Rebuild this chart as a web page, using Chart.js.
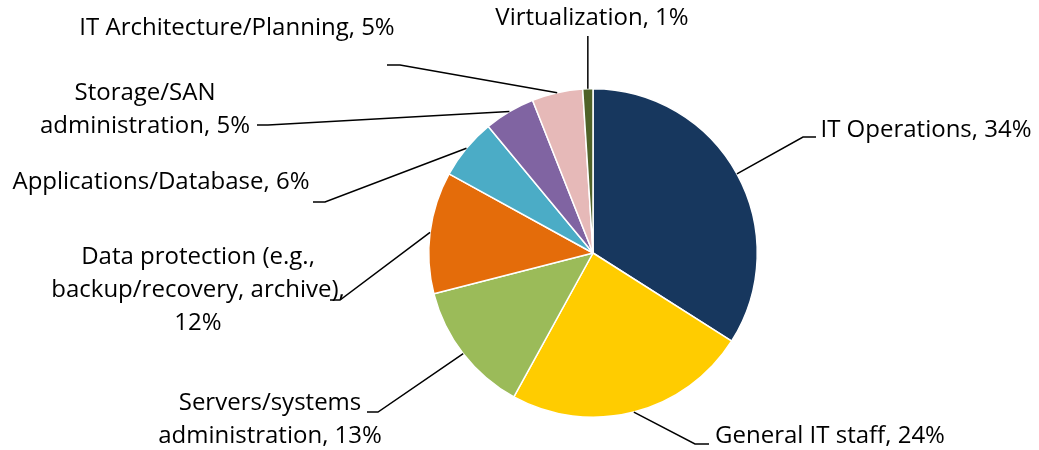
<!DOCTYPE html>
<html>
<head>
<meta charset="utf-8">
<script src="https://cdn.jsdelivr.net/npm/chart.js@4"></script>
<style>
  html, body { margin: 0; padding: 0; background: #ffffff; }
  #wrap { width: 1039px; height: 450px; }
</style>
</head>
<body>
<div id="wrap"><canvas id="c" width="1039" height="450"></canvas></div>
<script>
// ---- data ----
const categories = [
  "IT Operations",
  "General IT staff",
  "Servers/systems administration",
  "Data protection (e.g., backup/recovery, archive)",
  "Applications/Database",
  "Storage/SAN administration",
  "IT Architecture/Planning",
  "Virtualization"
];
const values = [34, 24, 13, 12, 6, 5, 5, 1];
const colors = ["#17375E", "#FFCC00", "#9BBB59", "#E46C0A", "#4BACC6", "#8064A2", "#E6B9B8", "#4F6228"];

// label text split into lines (as in the reference)
const labelLines = [
  ["IT Operations, 34%"],
  ["General IT staff, 24%"],
  ["Servers/systems", "administration, 13%"],
  ["Data protection (e.g.,", "backup/recovery, archive),", "12%"],
  ["Applications/Database, 6%"],
  ["Storage/SAN", "administration, 5%"],
  ["IT Architecture/Planning, 5%"],
  ["Virtualization, 1%"]
];

// ---- label layout (canvas px): text centre x, first line centre y, elbow, stub end ----
const labelLayout = [
  { tx: 926, ty: 130, elbow: [803, 137], stub: [816, 137] },
  { tx: 830, ty: 436, elbow: [695, 444], stub: [709, 444] },
  { tx: 270, ty: 403, elbow: [378, 412], stub: [367, 412] },
  { tx: 198, ty: 257, elbow: [340, 300], stub: [330, 300] },
  { tx: 161, ty: 182, elbow: [325, 202], stub: [313, 202] },
  { tx: 145, ty: 93,  elbow: [268, 125], stub: [257, 125] },
  { tx: 237, ty: 28,  elbow: [400, 65],  stub: [387, 65] },
  { tx: 592, ty: 18,  elbow: null,       stubY: 36 }
];
const FONT = "24px 'Open Sans'";
const LINE_H = 33;

const leaderPlugin = {
  id: 'leaders',
  afterDatasetsDraw(chart) {
    const ctx = chart.ctx;
    const meta = chart.getDatasetMeta(0);
    ctx.save();
    ctx.strokeStyle = "#000000";
    ctx.lineWidth = 1.5;
    ctx.fillStyle = "#000000";
    ctx.font = FONT;
    ctx.textAlign = "center";
    ctx.textBaseline = "middle";
    meta.data.forEach((arc, i) => {
      const p = arc.getProps(['x', 'y', 'startAngle', 'endAngle', 'outerRadius'], true);
      const mid = (p.startAngle + p.endAngle) / 2;
      const px = p.x + Math.cos(mid) * p.outerRadius;
      const py = p.y + Math.sin(mid) * p.outerRadius;
      const L = labelLayout[i];
      ctx.beginPath();
      ctx.moveTo(px, py);
      if (L.elbow) {
        ctx.lineTo(L.elbow[0], L.elbow[1]);
        ctx.lineTo(L.stub[0], L.stub[1]);
      } else {
        ctx.lineTo(px, L.stubY);
      }
      ctx.stroke();
      labelLines[i].forEach((t, k) => {
        ctx.fillText(t, L.tx, L.ty + k * LINE_H);
      });
    });
    ctx.restore();
  }
};

new Chart(document.getElementById('c'), {
  type: 'pie',
  data: {
    labels: categories,
    datasets: [{
      data: values,
      backgroundColor: colors,
      borderColor: "#ffffff",
      borderWidth: 1.5
    }]
  },
  options: {
    responsive: false,
    animation: false,
    events: [],
    layout: { padding: { left: 428, right: 281, top: 88, bottom: 32 } },
    plugins: {
      legend: { display: false },
      tooltip: { enabled: false },
      title: { display: false }
    }
  },
  plugins: [leaderPlugin]
});
</script>
</body>
</html>
